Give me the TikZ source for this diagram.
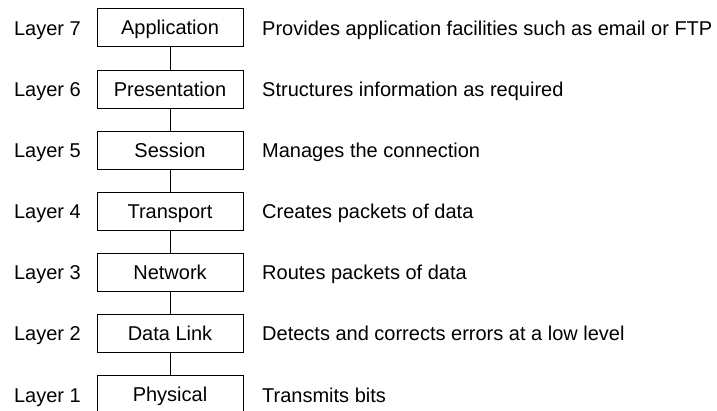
\documentclass[tikz,border=0pt]{standalone}
\usepackage{fontspec}
\setmainfont{Liberation Sans}
\begin{document}
\begin{tikzpicture}[x=1pt,y=1pt,
  txt/.style={font=\fontsize{20}{24}\selectfont,text height=14pt,text depth=0pt},
  layerbox/.style={txt,draw=black,line width=1pt,minimum width=146pt,minimum height=38pt,inner sep=0pt},
  lbl/.style={txt,anchor=east,inner sep=0pt},
  desc/.style={txt,anchor=west,inner sep=0pt},
  link/.style={line width=1pt}]
\useasboundingbox (0,0) rectangle (717,-411);
\foreach \i/\n/\d [count=\k from 0] in {7/Application/Provides application facilities such as email or FTP,
  6/Presentation/Structures information as required,
  5/Session/Manages the connection,
  4/Transport/Creates packets of data,
  3/Network/Routes packets of data,
  2/Data Link/Detects and corrects errors at a low level,
  1/Physical/Transmits bits}{
  \node[layerbox] (b\i) at (170,{-28-61.1*\k}) {\n};
  \node[lbl] (l\i) at (81,{-28.5-61.1*\k}) {Layer \i};
  \node[desc] (d\i) at (262,{-28.5-61.1*\k}) {\d};
}
\foreach \a/\b in {7/6,6/5,5/4,4/3,3/2,2/1}{
  \draw[link] (b\a) -- (b\b);
}
\end{tikzpicture}
\end{document}
